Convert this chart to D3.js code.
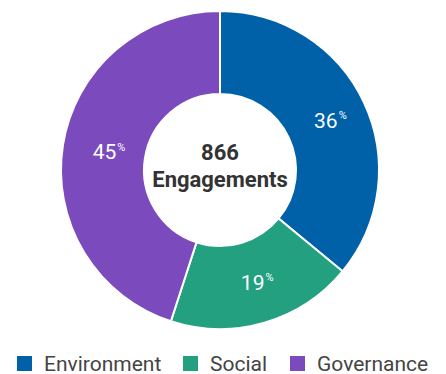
<!DOCTYPE html>
<html>
<head>
<meta charset="utf-8">
<script src="https://cdn.jsdelivr.net/npm/d3@7"></script>
<style>
  body { margin: 0; background: #fff; }
  svg { display: block; font-family: Roboto, "Noto Sans", sans-serif; }
</style>
</head>
<body>
<svg id="chart"></svg>
<script>
const categories = ['Environment', 'Social', 'Governance'];
const values = [36, 19, 45];
const colors = ['#0061a9', '#22a07f', '#7b4bbd'];
const total = 866;

const width = 446, height = 374;
const cx = 220, cy = 170;
const outerR = 159, innerR = 76;

const svg = d3.select('#chart')
  .attr('width', width)
  .attr('height', height);

const data = categories.map((c, i) => ({name: c, value: values[i], color: colors[i]}));

const pie = d3.pie()
  .sort(null)
  .value(d => d.value);

const arc = d3.arc()
  .innerRadius(innerR)
  .outerRadius(outerR);

const labelArc = d3.arc()
  .innerRadius(117)
  .outerRadius(117);

const g = svg.append('g')
  .attr('transform', `translate(${cx},${cy})`);

const arcs = pie(data);

g.selectAll('path')
  .data(arcs)
  .enter()
  .append('path')
  .attr('d', arc)
  .attr('fill', d => d.data.color)
  .attr('stroke', '#fff')
  .attr('stroke-width', 2);

// value labels: number centred on the centroid, small % after it
const lbl = g.selectAll('.lbl')
  .data(arcs)
  .enter()
  .append('g')
  .attr('class', 'lbl')
  .attr('transform', d => `translate(${labelArc.centroid(d)})`);

lbl.append('text')
  .attr('class', 'num')
  .attr('text-anchor', 'middle')
  .attr('dy', '0.35em')
  .attr('fill', '#fff')
  .style('font-size', '21px')
  .text(d => d.data.value);

lbl.each(function() {
  const w = d3.select(this).select('.num').node().getComputedTextLength();
  d3.select(this).append('text')
    .attr('x', w / 2 + 1)
    .attr('y', -1)
    .attr('fill', '#fff')
    .style('font-size', '11px')
    .text('%');
});

// centre text
g.append('text')
  .attr('text-anchor', 'middle')
  .attr('y', -10)
  .attr('fill', '#333')
  .style('font-size', '22px')
  .style('font-weight', 'bold')
  .text(total);

g.append('text')
  .attr('text-anchor', 'middle')
  .attr('y', 17)
  .attr('fill', '#333')
  .style('font-size', '22px')
  .style('font-weight', 'bold')
  .text('Engagements');

// legend
const legendX = [17, 183, 290];
const legend = svg.selectAll('.leg')
  .data(data)
  .enter()
  .append('g')
  .attr('class', 'leg')
  .attr('transform', (d, i) => `translate(${legendX[i]},356)`);

legend.append('rect')
  .attr('width', 15)
  .attr('height', 15)
  .attr('fill', d => d.color);

legend.append('text')
  .attr('x', 27)
  .attr('y', 14.5)
  .attr('fill', '#444')
  .style('font-size', '21px')
  .text(d => d.name);
</script>
</body>
</html>
